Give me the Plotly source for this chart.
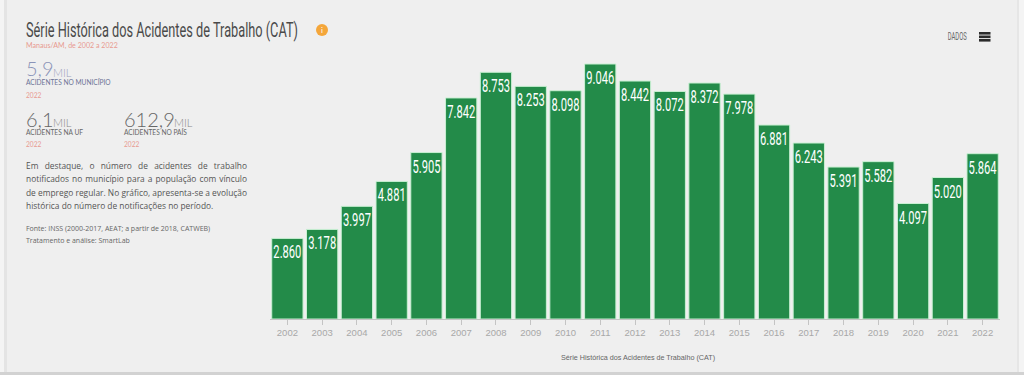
import plotly.graph_objects as go

W, H = 1024, 375
years = [str(y) for y in range(2002, 2023)]
values = [2860, 3178, 3997, 4881, 5905, 7842, 8753, 8253, 8098, 9046, 8442, 8072, 8372, 7978, 6881, 6243, 5391, 5582, 4097, 5020, 5864]
labels = [f"{v:,}".replace(",", ".") for v in values]

TITLE = "Série Histórica dos Acidentes de Trabalho (CAT)"
SUBTITLE = "Manaus/AM, de 2002 a 2022"
PARA = [
    "Em destaque, o número de acidentes de trabalho",
    "notificados no município para a população com vínculo",
    "de emprego regular. No gráfico, apresenta-se a evolução",
    "histórica do número de notificações no período.",
]
SRC = ["Fonte: INSS (2000-2017, AEAT; a partir de 2018, CATWEB)", "Tratamento e análise: SmartLab"]

L, R, T, B = 270, 24, 50, 56
COND = "Roboto"
SANS = "Lato"


def px(x):
    return (x - L) / (W - L - R)


def py(y):
    return 1 - (y - T) / (H - T - B)


ann = []


def text(x, y, s, size, color, family=SANS, anchor="left", weight=400):
    ann.append(dict(x=px(x), y=py(y), xref="paper", yref="paper", text=s, showarrow=False,
                    xanchor=anchor, yanchor="middle", borderpad=0, borderwidth=0,
                    font=dict(size=size, color=color, family=family, weight=weight)))


text(26, 30, TITLE, 20, "#4a4a4a", COND)
text(26, 45, SUBTITLE, 7.1, "#e89a90")
text(26, 68.5, "5,9", 20, "#8a93b8", weight=300)
text(53, 72, "MIL", 11, "#9aa0bc", weight=300)
text(26, 82, "ACIDENTES NO MUNICÍPIO", 6.6, "#6d7396")
text(26, 95, "2022", 6.6, "#e89a90")
text(26, 119, "6,1", 20, "#666666", weight=300)
text(53, 122, "MIL", 11, "#888888", weight=300)
text(26, 132, "ACIDENTES NA UF", 6.6, "#666666")
text(26, 144, "2022", 6.6, "#e89a90")
text(124, 119, "612,9", 20, "#666666", weight=300)
text(174, 122, "MIL", 11, "#888888", weight=300)
text(124, 132, "ACIDENTES NO PAÍS", 6.6, "#666666")
text(124, 144, "2022", 6.6, "#e89a90")
for i, line in enumerate(PARA):
    text(26, 165 + i * 13.6, line, 8.4, "#555555", "Open Sans")
for i, line in enumerate(SRC):
    text(26, 228 + i * 12.5, line, 7, "#666666", "Open Sans")
text(322, 30, "i", 8, "#ffffff", "Lato", "center")
text(956.5, 37, "DADOS", 10, "#666666", COND, "center")
text(638, 357, TITLE, 7.2, "#666666", "Liberation Sans", "center")


def band(x0, y0, x1, y1, color):
    return dict(type="rect", xref="paper", yref="paper", x0=px(x0), x1=px(x1), y0=py(y0), y1=py(y1),
                fillcolor=color, line=dict(width=0), layer="below")


shapes = [
    band(0, 0, 4, H, "#f4f4f4"),
    band(4, 0, 7, H, "#e4e4e4"),
    band(1019, 0, W, H, "#f4f4f4"),
    band(1017, 0, 1019, 372, "#e6e6e6"),
    band(0, 372, W, H, "#d2d2d2"),
    dict(type="circle", xref="paper", yref="paper", x0=px(316), x1=px(328), y0=py(36), y1=py(24),
         fillcolor="#f4a63a", line=dict(width=0), layer="below"),
]
for y0 in (32, 35.5, 39):
    shapes.append(band(979, y0, 990.5, y0 + 2.6, "#2b2b2b") | {"layer": "above"})

fig = go.Figure(go.Bar(
    x=years, y=values, text=labels, textposition="inside", insidetextanchor="end",
    textangle=0, cliponaxis=False, constraintext="none",
    textfont=dict(family=COND, size=18, color="#ffffff"),
    marker=dict(color="#238b49", line=dict(color="#c9f0d3", width=1)),
    hoverinfo="x+y",
))
fig.update_layout(
    width=W, height=H, autosize=False, margin=dict(l=L, r=R, t=T, b=B, pad=0),
    paper_bgcolor="#efefef", plot_bgcolor="#efefef", bargap=0.1, showlegend=False,
    annotations=ann, shapes=shapes,
    xaxis=dict(type="category", showgrid=False, zeroline=False, showline=True, linecolor="#c4c4c4", linewidth=1,
               ticks="outside", ticklen=5, tickcolor="#c4c4c4", tickangle=0,
               tickfont=dict(family="Liberation Sans", size=9.5, color="#a8a8a8")),
    yaxis=dict(range=[0, 9543], visible=False),
)

POST = """
document.documentElement.style.margin='0';document.body.style.margin='0';document.body.style.background='#efefef';
var gd=document.querySelector('.js-plotly-plot');
function squeeze(el,target){el.setAttribute('lengthAdjust','spacingAndGlyphs');el.setAttribute('textLength',target);}
function toStart(t){var b=t.getBBox();t.setAttribute('text-anchor','start');t.style.textAnchor='start';t.setAttribute('x',b.x);}
function fix(){
 document.querySelectorAll('.bartext').forEach(function(t){
   if(t.getAttribute('textLength'))return;
   squeeze(t,t.getComputedTextLength()*0.62);
 });
 document.querySelectorAll('.annotation-text').forEach(function(t,i){
   var s=t.textContent;
   if(i===0){if(!t.getAttribute('textLength')){toStart(t);squeeze(t,272);}}
   else if(s==='DADOS'){squeeze(t,19);}
   else if(s.indexOf('Em destaque')===0||s.indexOf('notificados')===0||s.indexOf('de emprego')===0){
     if(t.dataset.done)return;t.dataset.done='1';
     toStart(t);
     var n=s.split(' ').length-1;t.style.wordSpacing=((221-t.getComputedTextLength())/n)+'px';
   }
 });
}
fix();
gd.on('plotly_afterplot',fix);
"""

fig.write_html("out.html", config=dict(displayModeBar=False), post_script=POST)
